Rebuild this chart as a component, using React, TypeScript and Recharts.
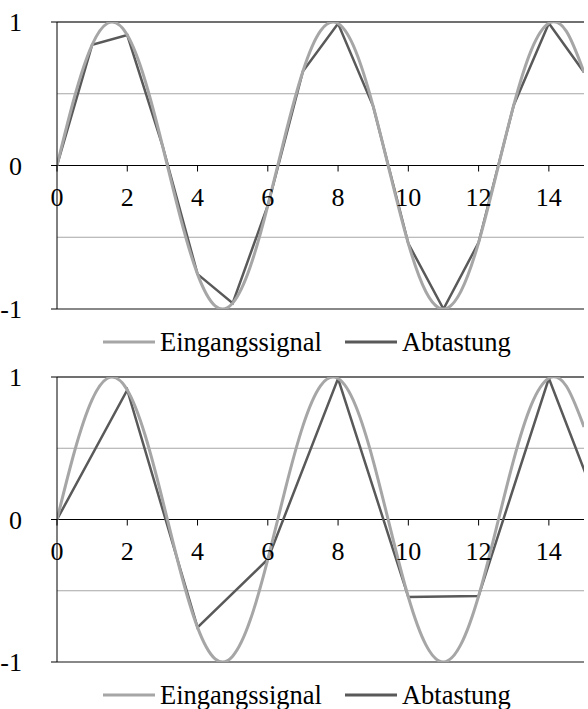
import React from "react";
import { Legend, Line, LineChart, ReferenceLine, XAxis, YAxis } from "recharts";

// input signal, read every half step
const signalX = [0, 0.5, 1, 1.5, 2, 2.5, 3, 3.5, 4, 4.5, 5, 5.5, 6, 6.5, 7, 7.5, 8, 8.5, 9, 9.5, 10, 10.5, 11, 11.5, 12, 12.5, 13, 13.5, 14, 14.5, 15];
const signalY = [0, 0.479, 0.841, 0.997, 0.909, 0.598, 0.141, -0.351, -0.757, -0.978, -0.959, -0.706, -0.279, 0.215, 0.657, 0.938, 0.989, 0.798, 0.412, -0.075, -0.544, -0.88, -1.0, -0.875, -0.537, -0.066, 0.42, 0.804, 0.991, 0.935, 0.65];

// sampling every step (top) and every second step (bottom)
const sampleX1 = [0, 1, 2, 3, 4, 5, 6, 7, 8, 9, 10, 11, 12, 13, 14, 15];
const sampleY1 = [0, 0.841, 0.909, 0.141, -0.757, -0.959, -0.279, 0.657, 0.989, 0.412, -0.544, -1.0, -0.537, 0.42, 0.991, 0.65];
const sampleX2 = [0, 2, 4, 6, 8, 10, 12, 14, 16];
const sampleY2 = [0, 0.909, -0.757, -0.279, 0.989, -0.544, -0.537, 0.991, -0.288];

const seriesNames = ["Eingangssignal", "Abtastung"];
const xTicks = [0, 2, 4, 6, 8, 10, 12, 14];
const yTicks = [-1, 0, 1];

const FONT = "'Liberation Serif', 'Times New Roman', serif";
const PLOT_TOP = 22;

const signal = signalX.map((x, i) => ({ x, y: signalY[i] }));
const samples1 = sampleX1.map((x, i) => ({ x, y: sampleY1[i] }));
const samples2 = sampleX2.map((x, i) => ({ x, y: sampleY2[i] }));

// x labels sit under the zero line, not under the plot
function XTick(props: any) {
  const { x, y, payload } = props;
  const zeroY = (PLOT_TOP + y) / 2;
  return (
    <g>
      <line x1={x} x2={x} y1={zeroY} y2={zeroY + 6} stroke="#000" strokeWidth={1} />
      <text x={x} y={zeroY + 40} textAnchor="middle" fontFamily={FONT} fontSize={26} fill="#000">
        {payload.value}
      </text>
    </g>
  );
}

function LegendBox(props: any) {
  const items = [...(props.payload ?? [])].sort(
    (a: any, b: any) => seriesNames.indexOf(a.value) - seriesNames.indexOf(b.value)
  );
  return (
    <div style={{ display: "flex", paddingLeft: 103, paddingTop: 18, fontFamily: FONT, fontSize: 26.5, lineHeight: "28px", color: "#000" }}>
      {items.map((item: any) => (
        <div key={item.value} style={{ display: "flex", alignItems: "center", marginRight: 23 }}>
          <svg width={52} height={4} style={{ marginRight: 5 }}>
            <line x1={0} x2={52} y1={2} y2={2} stroke={item.color} strokeWidth={3} />
          </svg>
          <span>{item.value}</span>
        </div>
      ))}
    </div>
  );
}

function Panel({ samples, height, legendHeight }: { samples: { x: number; y: number }[]; height: number; legendHeight: number }) {
  return (
    <LineChart width={588} height={height} margin={{ top: PLOT_TOP, right: 4, bottom: 0, left: 0 }}>
      <XAxis
        dataKey="x"
        type="number"
        domain={[0, 15]}
        ticks={xTicks}
        allowDataOverflow
        height={1}
        axisLine={false}
        tickLine={false}
        tickSize={0}
        tickMargin={0}
        tick={<XTick />}
        interval={0}
      />
      <YAxis
        type="number"
        domain={[-1, 1]}
        ticks={yTicks}
        allowDataOverflow
        width={57}
        tickSize={6}
        tickMargin={29}
        axisLine={{ stroke: "#000" }}
        tickLine={{ stroke: "#000" }}
        tick={{ fill: "#000", fontSize: 26, fontFamily: FONT }}
      />
      <ReferenceLine y={0.5} stroke="#a6a6a6" strokeWidth={1} />
      <ReferenceLine y={-0.5} stroke="#a6a6a6" strokeWidth={1} />
      <ReferenceLine y={1} stroke="#404040" strokeWidth={1.5} />
      <ReferenceLine y={-1} stroke="#606060" strokeWidth={1.5} />
      <ReferenceLine y={0} stroke="#000" strokeWidth={1} />
      <Legend verticalAlign="bottom" height={legendHeight} wrapperStyle={{ left: 0, width: 588 }} content={<LegendBox />} />
      <Line
        data={samples}
        dataKey="y"
        name={seriesNames[1]}
        type="linear"
        stroke="#595959"
        strokeWidth={2.5}
        dot={false}
        isAnimationActive={false}
      />
      <Line
        data={signal}
        dataKey="y"
        name={seriesNames[0]}
        type="natural"
        stroke="#a6a6a6"
        strokeWidth={3}
        dot={false}
        isAnimationActive={false}
      />
    </LineChart>
  );
}

export default function App() {
  return (
    <div style={{ position: "absolute", left: 0, top: 0, width: 588, height: 709, background: "#fff" }}>
      <Panel samples={samples1} height={355} legendHeight={45} />
      <Panel samples={samples2} height={354} legendHeight={46} />
    </div>
  );
}
